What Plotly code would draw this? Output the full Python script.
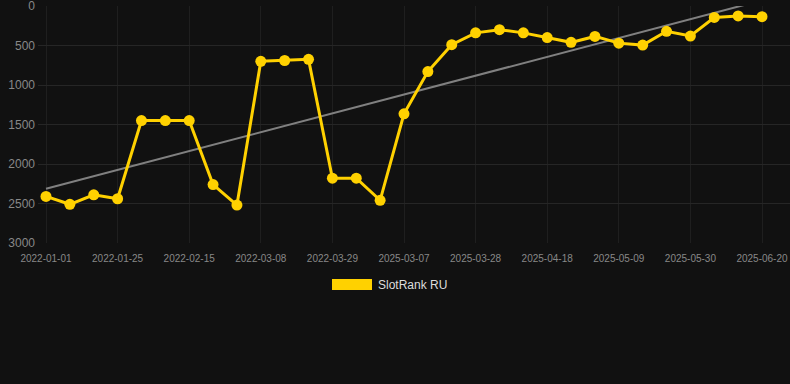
import numpy as np
import plotly.graph_objects as go

dates = [
    "2022-01-01", "2022-01-08", "2022-01-15", "2022-01-25", "2022-02-01", "2022-02-08",
    "2022-02-15", "2022-02-22", "2022-03-01", "2022-03-08", "2022-03-15", "2022-03-22",
    "2022-03-29", "2022-04-05", "2025-02-28", "2025-03-07", "2025-03-14", "2025-03-21",
    "2025-03-28", "2025-04-04", "2025-04-11", "2025-04-18", "2025-04-25", "2025-05-02",
    "2025-05-09", "2025-05-16", "2025-05-23", "2025-05-30", "2025-06-06", "2025-06-13",
    "2025-06-20",
]
ranks = [
    2410, 2510, 2390, 2440, 1450, 1450, 1450, 2260, 2520, 700, 690, 675,
    2180, 2180, 2460, 1365, 830, 490, 340, 300, 340, 400, 460, 385,
    470, 495, 320, 380, 145, 125, 135,
]
tick_labels = dates[::3]
y_ticks = [0, 500, 1000, 1500, 2000, 2500, 3000]

idx = np.arange(len(ranks))
slope, intercept = np.polyfit(idx, ranks, 1)
trend = slope * idx + intercept

fig = go.Figure()
fig.add_trace(go.Scatter(
    x=dates, y=trend, mode="lines",
    line=dict(color="#808080", width=2), hoverinfo="skip", showlegend=False,
))
fig.add_trace(go.Scatter(
    x=dates, y=ranks, mode="lines+markers", name="SlotRank RU",
    line=dict(color="#FFD100", width=3),
    marker=dict(color="#FFD100", size=11),
    showlegend=False,
))

W, H = 790, 384
left, top, bottom_px = 38, 6, 243
fig.update_layout(
    width=W, height=H,
    paper_bgcolor="#111111", plot_bgcolor="#111111",
    margin=dict(l=left, r=0, t=top, b=H - bottom_px),
    font=dict(family="Liberation Sans, Arial, sans-serif", color="#888888"),
    showlegend=False,
)
step = 23.87
fig.update_xaxes(
    type="category",
    range=[-(46 - left) / step, 30 + (790 - 762) / step],
    tickmode="array", tickvals=tick_labels, ticktext=tick_labels,
    tickfont=dict(size=10, color="#888888"),
    showgrid=True, gridcolor="#1f1f1f", gridwidth=1,
    zeroline=False, showline=False, ticks="", ticklen=0,
    ticklabelstandoff=8, ticklabeloverflow="allow",
)
fig.update_yaxes(
    range=[3000, 0],
    tickmode="array", tickvals=y_ticks,
    tickfont=dict(size=12, color="#888888"),
    showgrid=True, gridcolor="#262626", gridwidth=1,
    zeroline=False, showline=False, ticks="", ticklabelstandoff=2,
    ticklabeloverflow="allow",
)

# legend drawn manually (rectangle swatch + text)
fig.add_shape(type="rect", xref="paper", yref="paper",
              x0=(332 - left) / (W - left), x1=(372 - left) / (W - left),
              y0=-(279 - bottom_px) / (bottom_px - top),
              y1=-(290 - bottom_px) / (bottom_px - top),
              fillcolor="#FFD100", line=dict(width=0))
fig.add_annotation(xref="paper", yref="paper",
                   x=(376 - left) / (W - left), y=-(284.5 - bottom_px) / (bottom_px - top),
                   xanchor="left", yanchor="middle", showarrow=False,
                   text="SlotRank RU", font=dict(size=12, color="#dddddd"))

fig.write_html(
    "out.html",
    config={"displayModeBar": False},
    post_script="document.body.style.margin='0';document.body.style.background='#111111';",
)
